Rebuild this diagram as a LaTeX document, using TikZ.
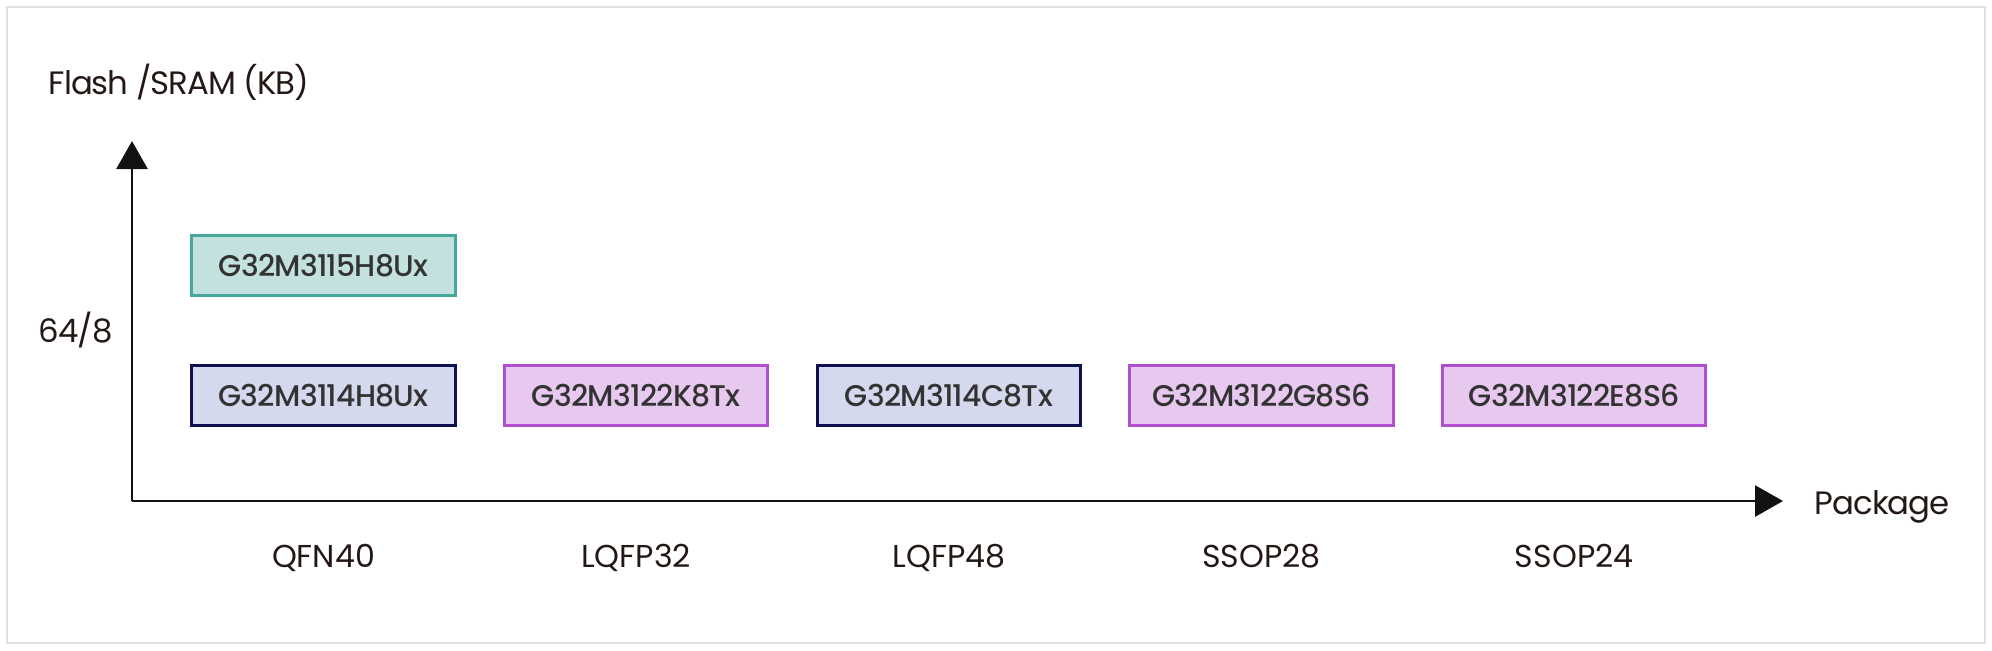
\documentclass[tikz,border=0pt]{standalone}
\usepackage{fontspec}
\setmainfont{Poppins}
\newfontfamily\chipfont{Poppins Medium}[LetterSpace=-2.5]
\newfontfamily\axisfont{Poppins}[LetterSpace=-3]
\usepackage{tikz}
\usetikzlibrary{arrows.meta}
\usetikzlibrary{positioning}

\definecolor{tealline}{HTML}{45A89A}
\definecolor{tealfill}{HTML}{C3E2DF}
\definecolor{navyline}{HTML}{0F1050}
\definecolor{navyfill}{HTML}{D5D9EE}
\definecolor{purpline}{HTML}{B04FD0}
\definecolor{purpfill}{HTML}{E7C8EE}
\definecolor{chiptext}{HTML}{333333}
\definecolor{labeltext}{HTML}{231816}
\definecolor{framegray}{HTML}{E0E0E0}

\tikzset{
	chip/.style={draw, line width=0.85pt, minimum width=2.63cm, minimum height=0.60cm,
		inner sep=0pt, text=chiptext, font=\chipfont\fontsize{8.5}{10}\selectfont},
	chipteal/.style={chip, draw=tealline, fill=tealfill},
	chipnavy/.style={chip, draw=navyline, fill=navyfill},
	chippurp/.style={chip, draw=purpline, fill=purpfill},
	axislabel/.style={inner sep=0pt, text=labeltext, font=\axisfont\fontsize{9.2}{11}\selectfont},
	pkglabel/.style={inner sep=0pt, anchor=base, text=labeltext, font=\fontsize{9}{11}\selectfont},
	axisline/.style={line width=0.8pt, color=black!93, -{Triangle[length=0.28cm,width=0.31cm]}}
}

\begin{document}
\begin{tikzpicture}[x=0.01cm, y=-0.01cm]
	\useasboundingbox (0,0) rectangle (1992,650);
	\draw[framegray, line width=0.6pt] (7,7) rectangle (1985,643);

	% axes
	\coordinate (o) at (132,501);
	\coordinate (ytip) at (132,141);
	\coordinate (xtip) at (1783,501);
	\coordinate (pkgrow) at (0,567);
	\draw[axisline] (o) -- (ytip);
	\draw[axisline] (o) -- (xtip);

	\node[axislabel, anchor=base west] (ylab) at (48,94) {Flash /SRAM (KB)};
	\node[axislabel, anchor=base west] (tick) at (38,342) {64/8};
	\node[axislabel, anchor=base west] (xlab) at (1814,514) {Package};

	% parts
	\node[chipnavy] (c1) at (323.5,395.5) {G32M3114H8Ux};
	\node[chippurp, right=0.465cm of c1] (c2) {G32M3122K8Tx};
	\node[chipnavy, right=0.465cm of c2] (c3) {G32M3114C8Tx};
	\node[chippurp, right=0.465cm of c3] (c4) {G32M3122G8S6};
	\node[chippurp, right=0.465cm of c4] (c5) {G32M3122E8S6};
	\node[chipteal, above=0.67cm of c1] (c0) {G32M3115H8Ux};

	% packages
	\node[pkglabel] (p1) at (c1 |- pkgrow) {QFN40};
	\node[pkglabel] (p2) at (c2 |- pkgrow) {LQFP32};
	\node[pkglabel] (p3) at (c3 |- pkgrow) {LQFP48};
	\node[pkglabel] (p4) at (c4 |- pkgrow) {SSOP28};
	\node[pkglabel] (p5) at (c5 |- pkgrow) {SSOP24};
\end{tikzpicture}
\end{document}
